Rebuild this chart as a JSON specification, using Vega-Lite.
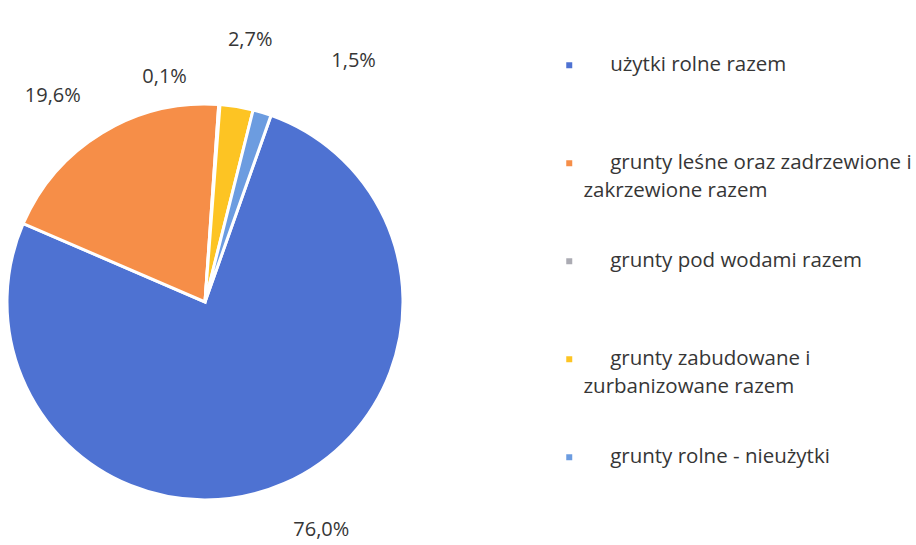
{
  "$schema": "https://vega.github.io/schema/vega-lite/v6.json",
  "width": 410,
  "height": 494,
  "autosize": {"type": "none"},
  "padding": {"left": 0, "top": 55, "right": 506, "bottom": 0},
  "background": "white",
  "data": {
    "values": [
      {"kategoria": "użytki rolne razem", "udzial": 0.760, "lp": 1},
      {"kategoria": "grunty leśne oraz zadrzewione i zakrzewione razem", "udzial": 0.196, "lp": 2},
      {"kategoria": "grunty pod wodami razem", "udzial": 0.001, "lp": 3},
      {"kategoria": "grunty zabudowane i zurbanizowane razem", "udzial": 0.027, "lp": 4},
      {"kategoria": "grunty rolne - nieużytki", "udzial": 0.015, "lp": 5}
    ]
  },
  "encoding": {
    "theta": {"field": "udzial", "type": "quantitative", "stack": true, "scale": {"range": [0.340, 6.6232]}},
    "order": {"field": "lp", "type": "quantitative"},
    "color": {
      "field": "kategoria",
      "type": "nominal",
      "scale": {
        "domain": ["użytki rolne razem", "grunty leśne oraz zadrzewione i zakrzewione razem", "grunty pod wodami razem", "grunty zabudowane i zurbanizowane razem", "grunty rolne - nieużytki"],
        "range": ["#4E72D2", "#F68E48", "#ABABB3", "#FDC423", "#6C9CE0"]
      },
      "legend": {
        "title": null,
        "orient": "right",
        "offset": 149,
        "padding": 0,
        "symbolType": "square",
        "symbolSize": 36,
        "symbolStrokeWidth": 0,
        "labelFont": "Open Sans",
        "labelFontSize": 20.5,
        "labelColor": "#363636",
        "labelOffset": 4,
        "labelLimit": 0,
        "gridAlign": "all",
        "rowPadding": 49,
        "encoding": {"labels": {"lineHeight": {"value": 28}}},
        "labelExpr": "datum.label == 'grunty leśne oraz zadrzewione i zakrzewione razem' ? ['\u200b\u00a0\u00a0\u00a0\u00a0\u00a0grunty leśne oraz zadrzewione i', 'zakrzewione razem'] : datum.label == 'grunty zabudowane i zurbanizowane razem' ? ['\u200b\u00a0\u00a0\u00a0\u00a0\u00a0grunty zabudowane i', 'zurbanizowane razem'] : '\u200b\u00a0\u00a0\u00a0\u00a0\u00a0' + datum.label"
      }
    }
  },
  "layer": [
    {"mark": {"type": "arc", "outerRadius": 198, "stroke": "white", "strokeWidth": 3}},
    {
      "mark": {"type": "text", "radius": 256, "thetaOffset": -0.06, "font": "Open Sans", "fontSize": 20},
      "encoding": {
        "text": {"field": "udzial", "type": "quantitative", "format": ".1%"},
        "color": {"value": "#363636"},
        "opacity": {"condition": {"test": "datum.lp == 1", "value": 1}, "value": 0}
      }
    },
    {
      "mark": {"type": "text", "radius": 256, "thetaOffset": -0.09, "font": "Open Sans", "fontSize": 20},
      "encoding": {
        "text": {"field": "udzial", "type": "quantitative", "format": ".1%"},
        "color": {"value": "#363636"},
        "opacity": {"condition": {"test": "datum.lp == 2", "value": 1}, "value": 0}
      }
    },
    {
      "mark": {"type": "text", "radius": 229, "thetaOffset": -0.25, "font": "Open Sans", "fontSize": 20},
      "encoding": {
        "text": {"field": "udzial", "type": "quantitative", "format": ".1%"},
        "color": {"value": "#363636"},
        "opacity": {"condition": {"test": "datum.lp == 3", "value": 1}, "value": 0}
      }
    },
    {
      "mark": {"type": "text", "radius": 266, "thetaOffset": 0.01, "font": "Open Sans", "fontSize": 20},
      "encoding": {
        "text": {"field": "udzial", "type": "quantitative", "format": ".1%"},
        "color": {"value": "#363636"},
        "opacity": {"condition": {"test": "datum.lp == 4", "value": 1}, "value": 0}
      }
    },
    {
      "mark": {"type": "text", "radius": 283, "thetaOffset": 0.26, "font": "Open Sans", "fontSize": 20},
      "encoding": {
        "text": {"field": "udzial", "type": "quantitative", "format": ".1%"},
        "color": {"value": "#363636"},
        "opacity": {"condition": {"test": "datum.lp == 5", "value": 1}, "value": 0}
      }
    }
  ],
  "config": {
    "view": {"stroke": null},
    "locale": {
      "number": {"decimal": ",", "thousands": " ", "grouping": [3], "currency": ["", " zł"], "percent": "%"}
    }
  }
}
